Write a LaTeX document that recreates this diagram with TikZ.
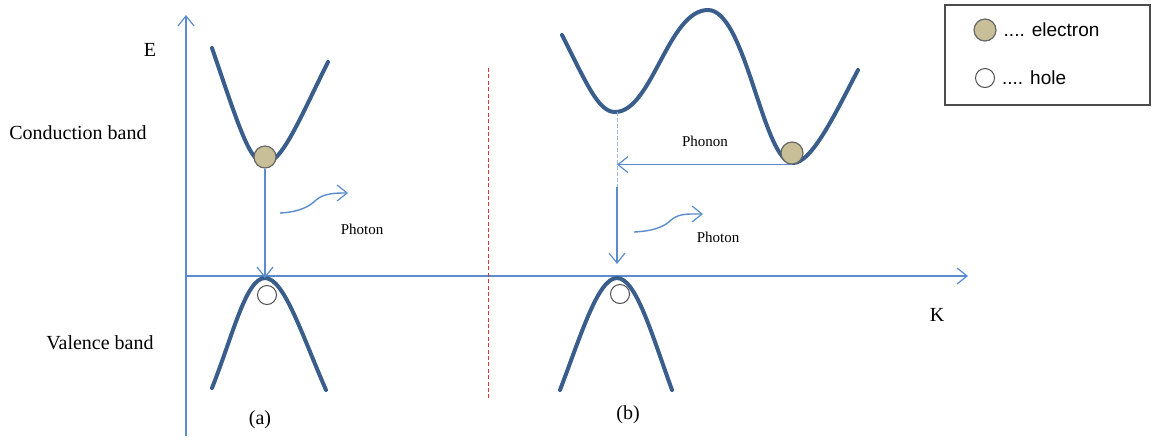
\documentclass[tikz,border=0pt]{standalone}
\usepackage{fontspec}
\setmainfont{Liberation Serif}
\setsansfont{Liberation Sans}
\usepackage{tikz}
\usetikzlibrary{positioning, arrows.meta, calc}
\definecolor{axisblue}{RGB}{91, 140, 206}
\definecolor{bandblue}{RGB}{58, 94, 140}
\definecolor{electrontan}{RGB}{200, 191, 152}
\definecolor{dividered}{RGB}{225, 50, 50}

\begin{document}
\begin{tikzpicture}[x=0.5pt, y=-0.5pt,
    axis/.style={axisblue, line width=0.7pt},
    band/.style={bandblue, line width=2pt, line cap=round},
    tip/.style={-{Straight Barb[length=5pt, width=8pt, line width=0.6pt]}},
    electron/.style={circle, draw=black!60, fill=electrontan, line width=0.6pt,
                     minimum size=11pt, inner sep=0pt},
    hole/.style={circle, draw=black!70, fill=white, line width=0.5pt,
                 minimum size=9.5pt, inner sep=0pt},
    lbl/.style={font=\fontsize{10}{12}\selectfont},
    small/.style={font=\fontsize{7.5}{9}\selectfont}]
  \useasboundingbox (0,0) rectangle (1154,441);

  % axes
  \coordinate (origin) at (186,276);
  \coordinate (etop) at (186,15);
  \coordinate (ebot) at (186,436);
  \coordinate (kend) at (968,276);
  \draw[axis, tip] (ebot) -- (etop);
  \draw[axis, tip] (origin) -- (kend);
  \node[lbl] (elabel) at (150,50) {E};
  \node[lbl] (klabel) at (937,315) {K};
  \node[lbl] (cband) at (78,133) {Conduction band};
  \node[lbl] (vband) at (100,343) {Valence band};

  % divider
  \coordinate (divtop) at (488,68);
  \coordinate (divbot) at (488,400);
  \draw[dividered, line width=0.5pt, dash pattern=on 2pt off 1.2pt] (divtop) -- (divbot);

  % (a) direct gap
  \draw[band] (212,48) .. controls (240,130) and (250,163) .. (265,163)
              .. controls (282,163) and (300,118) .. (328,62);
  \draw[band] (212,388) .. controls (233,335) and (246,278) .. (265,278)
              .. controls (284,278) and (302,335) .. (326,390);
  \node[electron] (ea) at (265,157) {};
  \node[hole] (ha) at (267,295) {};
  \coordinate (vtopa) at (265,278);
  \draw[axis, tip] (ea.south) -- (vtopa);
  \coordinate (pha) at (280,213);
  \coordinate (phaend) at (348,193);
  \draw[axis, tip] (pha) .. controls (300,212) and (310,206) .. (316,200)
                   .. controls (324,193) and (336,193) .. (phaend);
  \node[small] (photona) at (362,229) {Photon};
  \node[lbl] (capa) at (260,420) {(a)};

  % (b) indirect gap
  \draw[band] (562,35) .. controls (586,82) and (598,112) .. (615,112)
              .. controls (652,112) and (668,10) .. (708,10)
              .. controls (746,10) and (763,163) .. (793,163)
              .. controls (812,163) and (836,112) .. (858,70);
  \draw[band] (560,390) .. controls (581,335) and (598,278) .. (617,278)
              .. controls (636,278) and (652,335) .. (672,390);
  \node[electron] (eb) at (792,153) {};
  \node[hole] (hb) at (620,294) {};
  \coordinate (cminb) at (617,112);
  \coordinate (kinkb) at (617,187);
  \coordinate (vtopb) at (617,264);
  \draw[axisblue!60, line width=0.4pt, dash pattern=on 2pt off 1pt] (cminb) -- (kinkb);
  \draw[axis, tip] (eb.south) -- (eb.south -| cminb);
  \node[small] (phonon) at (705,141) {Phonon};
  \draw[axis, tip] (kinkb) -- (vtopb);
  \coordinate (phb) at (634,232);
  \coordinate (phbend) at (703,214);
  \draw[axis, tip] (phb) .. controls (655,231) and (665,226) .. (671,220)
                   .. controls (679,213) and (690,214) .. (phbend);
  \node[small] (photonb) at (718,237) {Photon};
  \node[lbl] (capb) at (628,415) {(b)};

  % legend
  \draw[black!70, line width=0.6pt] (945,5) rectangle (1150,105);
  \node[electron] (lege) at (985,30) {};
  \node[font=\sffamily\fontsize{9.5}{11}\selectfont, right=0pt of lege] (legetext) {.... electron};
  \node[hole] (legh) at (985,78) {};
  \node[font=\sffamily\fontsize{9.5}{11}\selectfont, right=0pt of legh] (leghtext) {.... hole};
\end{tikzpicture}
\end{document}
